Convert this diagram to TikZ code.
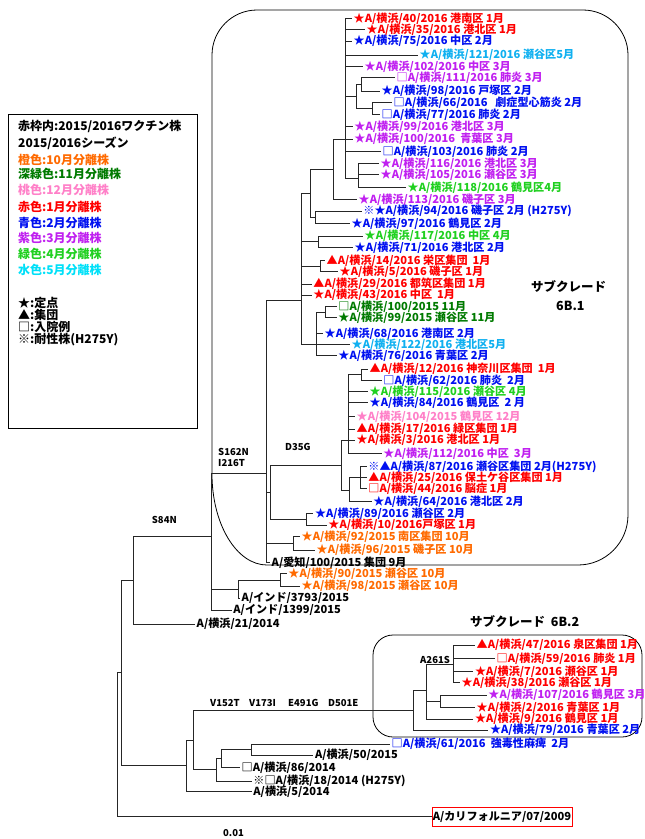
\documentclass[tikz,border=0pt]{standalone}
\usepackage{fontspec}
\setmainfont{Noto Sans CJK JP}
\definecolor{cred}{HTML}{FF0000}
\definecolor{cblue}{HTML}{0010F0}
\definecolor{cpur}{HTML}{C020F0}
\definecolor{cgrn}{HTML}{20D020}
\definecolor{cdgrn}{HTML}{007A00}
\definecolor{corg}{HTML}{FF6A00}
\definecolor{cpink}{HTML}{FF80C8}
\definecolor{ccyan}{HTML}{10B0F0}
\definecolor{clcyan}{HTML}{00E0F8}
\begin{document}
\begin{tikzpicture}[x=1pt,y=-1pt,
  lab/.style={anchor=west, inner xsep=1.5pt, inner ysep=0pt, font=\fontsize{11.1}{12}\selectfont\bfseries},
  mut/.style={anchor=west, inner sep=0pt, font=\fontsize{9.5}{11}\selectfont\bfseries},
  leg/.style={anchor=west, inner sep=0pt, font=\fontsize{12}{14}\selectfont\bfseries},
  br/.style={line width=0.7pt, draw=black!85},
  frame/.style={line width=0.8pt, draw=black}]
\useasboundingbox (0,0) rectangle (645,839);

% ---------- boxes ----------
\draw[frame] (212,55) .. controls (212,30.2) and (232.2,10) .. (257,10) -- (583,10)
  .. controls (607.8,10) and (628,30.2) .. (628,55) -- (628,515)
  .. controls (628,542.6) and (605.6,565) .. (578,565) -- (267,565)
  .. controls (236.6,565) and (212,524.2) .. (212,474) -- cycle;
\draw[frame, rounded corners=20pt] (373,635) rectangle (642,737);
\draw[frame] (8,114) rectangle (197,428);

% ---------- legend ----------
\node[leg] (g1) at (18,126.7) {赤枠内:2015/2016ワクチン株};
\node[leg] (g2) at (18,143.3) {2015/2016シーズン};
\node[leg, text=corg] (g3) at (18,160) {橙色:10月分離株};
\node[leg, text=cdgrn] (g4) at (18,173.5) {深緑色:11月分離株};
\node[leg, text=cpink] (g5) at (18,190) {桃色:12月分離株};
\node[leg, text=cred] (g6) at (18,206.7) {赤色:1月分離株};
\node[leg, text=cblue] (g7) at (18,222.7) {青色:2月分離株};
\node[leg, text=cpur] (g8) at (18,237.7) {紫色:3月分離株};
\node[leg, text=cgrn] (g9) at (18,254.3) {緑色:4月分離株};
\node[leg, text=clcyan] (g10) at (18,270) {水色:5月分離株};
\node[leg] (g11) at (18,303.3) {★:定点};
\node[leg] (g12) at (18,314.8) {▲:集団};
\node[leg] (g13) at (18,326.7) {□:入院例};
\node[leg] (g14) at (18,340) {※:耐性株(H275Y)};

% ---------- titles ----------
\node[leg, font=\fontsize{12.5}{14}\selectfont\bfseries] (t1) at (531,287) {サブクレード};
\node[leg, font=\fontsize{12.5}{14}\selectfont\bfseries] (t2) at (556,306) {6B.1};
\node[leg, font=\fontsize{12.5}{14}\selectfont\bfseries] (t3) at (470,622) {サブクレード\ \ 6B.2};

% ---------- mutation labels ----------
\node[mut] (m1) at (218,451.7) {S162N};
\node[mut] (m2) at (218,463.3) {I216T};
\node[mut] (m3) at (285,446.7) {D35G};
\node[mut] (m4) at (151.7,520) {S84N};
\node[mut] (m5) at (210,702.7) {V152T};
\node[mut] (m6) at (249,702.7) {V173I};
\node[mut] (m7) at (288,702.7) {E491G};
\node[mut] (m8) at (328,702.7) {D501E};
\node[mut] (m9) at (420,659.5) {A261S};
\node[mut] (sc) at (223,833) {0.01};

% ---------- leaves ----------
\node[lab, text=cred] (L1) at (352,18.3) {★A/横浜/40/2016 港南区 1月};
\node[lab, text=cred] (L2) at (365,29.3) {★A/横浜/35/2016 港北区 1月};
\node[lab, text=cblue] (L3) at (352,41) {★A/横浜/75/2016 中区 2月};
\node[lab, text=ccyan] (L4) at (418,55) {★A/横浜/121/2016 瀬谷区5月};
\node[lab, text=cpur] (L5) at (363,66.7) {★A/横浜/102/2016 中区 3月};
\node[lab, text=cpur] (L6) at (395,77.7) {□A/横浜/111/2016 肺炎 3月};
\node[lab, text=cblue] (L7) at (380,91) {★A/横浜/98/2016 戸塚区 2月};
\node[lab, text=cblue] (L8) at (392,102.7) {□A/横浜/66/2016\ \ \ 劇症型心筋炎 2月};
\node[lab, text=cblue] (L9) at (380,114.7) {□A/横浜/77/2016 肺炎 2月};
\node[lab, text=cpur] (L10) at (352.7,126.7) {★A/横浜/99/2016 港北区 3月};
\node[lab, text=cpur] (L11) at (352.7,139) {★A/横浜/100/2016\ \ 青葉区 3月};
\node[lab, text=cblue] (L12) at (381,151.7) {□A/横浜/103/2016 肺炎 2月};
\node[lab, text=cpur] (L13) at (379,163.3) {★A/横浜/116/2016 港北区 3月};
\node[lab, text=cpur] (L14) at (379,174.3) {★A/横浜/105/2016 瀬谷区 3月};
\node[lab, text=cgrn] (L15) at (406,187.7) {★A/横浜/118/2016 鶴見区4月};
\node[lab, text=cpur] (L16) at (357,199.3) {★A/横浜/113/2016 磯子区 3月};
\node[lab, text=cblue] (L17) at (361.7,211) {※★A/横浜/94/2016 磯子区 2月 (H275Y)};
\node[lab, text=cblue] (L18) at (350,223.3) {★A/横浜/97/2016 鶴見区 2月};
\node[lab, text=cgrn] (L19) at (363,236) {★A/横浜/117/2016 中区 4月};
\node[lab, text=cblue] (L20) at (353,247.7) {★A/横浜/71/2016 港北区 2月};
\node[lab, text=cred] (L21) at (325,260.7) {▲A/横浜/14/2016 栄区集団\ \ 1月};
\node[lab, text=cred] (L22) at (338,271.7) {★A/横浜/5/2016 磯子区 1月};
\node[lab, text=cred] (L23) at (311.7,284) {▲A/横浜/29/2016 都筑区集団 1月};
\node[lab, text=cred] (L24) at (311.7,295.2) {★A/横浜/43/2016 中区\ \ 1月};
\node[lab, text=cdgrn] (L25) at (336.7,306.4) {□A/横浜/100/2015 11月};
\node[lab, text=cdgrn] (L26) at (336.7,317.6) {★A/横浜/99/2015 瀬谷区 11月};
\node[lab, text=cblue] (L27) at (323,333.3) {★A/横浜/68/2016 港南区 2月};
\node[lab, text=ccyan] (L28) at (350,344.3) {★A/横浜/122/2016 港北区5月};
\node[lab, text=cblue] (L29) at (336.7,355.7) {★A/横浜/76/2016 青葉区 2月};
\node[lab, text=cred] (L30) at (368,369) {▲A/横浜/12/2016 神奈川区集団\ \ 1月};
\node[lab, text=cblue] (L31) at (381.7,380.7) {□A/横浜/62/2016 肺炎\ \ 2月};
\node[lab, text=cgrn] (L32) at (368,391.7) {★A/横浜/115/2016 瀬谷区 4月};
\node[lab, text=cblue] (L33) at (368,402.3) {★A/横浜/84/2016 鶴見区\ \ 2 月};
\node[lab, text=cpink] (L34) at (355,416.7) {★A/横浜/104/2015 鶴見区 12月};
\node[lab, text=cred] (L35) at (355,429) {▲A/横浜/17/2016 緑区集団 1月};
\node[lab, text=cred] (L36) at (355,440) {★A/横浜/3/2016 港北区 1月};
\node[lab, text=cpur] (L37) at (381.7,453.3) {★A/横浜/112/2016 中区\ \ 3月};
\node[lab, text=cblue] (L38) at (366.7,466.7) {※▲A/横浜/87/2016 瀬谷区集団 2月(H275Y)};
\node[lab, text=cred] (L39) at (366.7,477.3) {▲A/横浜/25/2016 保土ケ谷区集団 1月};
\node[lab, text=cred] (L40) at (366.7,488.3) {□A/横浜/44/2016 脳症 1月};
\node[lab, text=cblue] (L41) at (371.7,501.7) {★A/横浜/64/2016 港北区 2月};
\node[lab, text=cblue] (L42) at (313.3,513.3) {★A/横浜/89/2016 瀬谷区 2月};
\node[lab, text=cred] (L43) at (326.7,525) {★A/横浜/10/2016戸塚区 1月};
\node[lab, text=corg] (L44) at (300,536.7) {★A/横浜/92/2015 南区集団 10月};
\node[lab, text=corg] (L45) at (315,550) {★A/横浜/96/2015 磯子区 10月};
\node[lab] (L46) at (270,562.3) {A/愛知/100/2015 集団 9月};
\node[lab, text=corg] (L47) at (286.7,573.3) {★A/横浜/90/2015 瀬谷区 10月};
\node[lab, text=corg] (L48) at (300,586) {★A/横浜/98/2015 瀬谷区 10月};
\node[lab] (L49) at (240,598.3) {A/インド/3793/2015};
\node[lab] (L50) at (231.7,610) {A/インド/1399/2015};
\node[lab] (L51) at (195,624) {A/横浜/21/2014};
\node[lab, text=cred] (L52) at (475,645) {▲A/横浜/47/2016 泉区集団 1月};
\node[lab, text=cred] (L53) at (495,658.3) {□A/横浜/59/2016 肺炎 1月};
\node[lab, text=cred] (L54) at (473.3,671.7) {★A/横浜/7/2016 瀬谷区 1月};
\node[lab, text=cred] (L55) at (460,682.3) {★A/横浜/38/2016 瀬谷区 1月};
\node[lab, text=cpur] (L56) at (486.7,695) {★A/横浜/107/2016 鶴見区 3月};
\node[lab, text=cred] (L57) at (475,707.3) {★A/横浜/2/2016 青葉区 1月};
\node[lab, text=cred] (L58) at (473.3,719) {★A/横浜/9/2016 鶴見区 1月};
\node[lab, text=cblue] (L59) at (488.3,730) {★A/横浜/79/2016 青葉区 2月};
\node[lab, text=cblue] (L60) at (390,744) {□A/横浜/61/2016\ \ 強毒性麻痺\ \ 2月};
\node[lab] (L61) at (313.3,755) {A/横浜/50/2015};
\node[lab] (L62) at (240,767.3) {□A/横浜/86/2014};
\node[lab] (L63) at (251.7,781) {※□A/横浜/18/2014 (H275Y)};
\node[lab] (L64) at (251.7,791.7) {A/横浜/5/2014};
\node[draw=cred, line width=0.9pt, minimum width=140pt, minimum height=19pt, inner sep=0pt,
  font=\fontsize{11.1}{12}\selectfont\bfseries] (Cal) at (502,816.5) {A/カリフォルニア/07/2009};

% ---------- internal nodes ----------
\coordinate (root) at (117.3,744);
\coordinate (n121) at (121.7,672.5);
\coordinate (n133) at (133.3,580);
\coordinate (n212) at (211.7,536.7);
\coordinate (n238) at (238.3,589);
\coordinate (n280) at (280,580);
\coordinate (R1) at (266.7,473.3);
\coordinate (T) at (301,300);
\coordinate (P3) at (310,193.3);
\coordinate (P2) at (333.3,169);
\coordinate (P1) at (345,139);
\coordinate (n357) at (356.7,96.5);
\coordinate (n361) at (361.7,84.3);
\coordinate (n373) at (372.7,108.7);
\coordinate (n358) at (358,178.3);
\coordinate (n315) at (315,217.2);
\coordinate (n318) at (318,241.8);
\coordinate (n320) at (320,266.2);
\coordinate (M) at (316.7,344.3);
\coordinate (n325) at (325,312);
\coordinate (n270) at (270,492);
\coordinate (D) at (341.7,465);
\coordinate (Pz) at (348.3,440);
\coordinate (n362) at (361.7,374.8);
\coordinate (n349) at (349,490);
\coordinate (n360) at (360,477.5);
\coordinate (n307) at (306.7,519.2);
\coordinate (n293) at (293.3,543.3);
\coordinate (nB) at (186.7,765);
\coordinate (nA) at (193.3,740);
\coordinate (R2) at (413.3,710.7);
\coordinate (Na) at (426.7,690);
\coordinate (nA261) at (453.3,664.5);
\coordinate (n440) at (440,701);
\coordinate (n216) at (216,769.5);
\coordinate (n222) at (221.7,758.3);
\coordinate (n252) at (251.7,749.5);

% ---------- branches ----------
\foreach \p/\c in {root/n121, root/Cal.west, n121/n133, n121/nB, n133/n212, n133/L51.west,
  n212/R1, n212/n238, n212/L50.west, n238/n280, n238/L49.west, n280/L47.west, n280/L48.west,
  R1/T, R1/n270, R1/n293, R1/L46.west, n293/L44.west, n293/L45.west,
  n270/D, n270/n307, n307/L42.west, n307/L43.west,
  D/Pz, D/n349, Pz/n362, n362/L30.west, n362/L31.west,
  Pz/L32.west, Pz/L33.west, Pz/L34.west, Pz/L35.west, Pz/L36.west, Pz/L37.west,
  n349/n360, n349/L41.west, n360/L38.west, n360/L39.west, n360/L40.west,
  T/P3, T/n318, T/n320, T/L23.west, T/L24.west, T/M,
  M/n325, M/L27.west, M/L28.west, M/L29.west, n325/L25.west, n325/L26.west,
  n318/L19.west, n318/L20.west, n320/L21.west, n320/L22.west,
  P3/P2, P3/n315, n315/L17.west, n315/L18.west, P2/P1, P2/L16.west,
  P1/L1.west, P1/L2.west, P1/L3.west, P1/L4.west, P1/L5.west, P1/n357, P1/L10.west,
  P1/L11.west, P1/L12.west, P1/n358,
  n357/n361, n357/n373, n361/L6.west, n361/L7.west, n373/L8.west, n373/L9.west,
  n358/L13.west, n358/L14.west, n358/L15.west,
  nB/nA, nB/L64.west, nA/R2, nA/n216, n216/n222, n216/L63.west, n222/n252, n222/L62.west,
  n252/L60.west, n252/L61.west,
  R2/Na, R2/L59.west, Na/nA261, Na/n440, Na/L58.west, n440/L56.west, n440/L57.west,
  nA261/L52.west, nA261/L53.west, nA261/L54.west, nA261/L55.west}
  \draw[br] (\p) |- (\c);
\end{tikzpicture}
\end{document}
